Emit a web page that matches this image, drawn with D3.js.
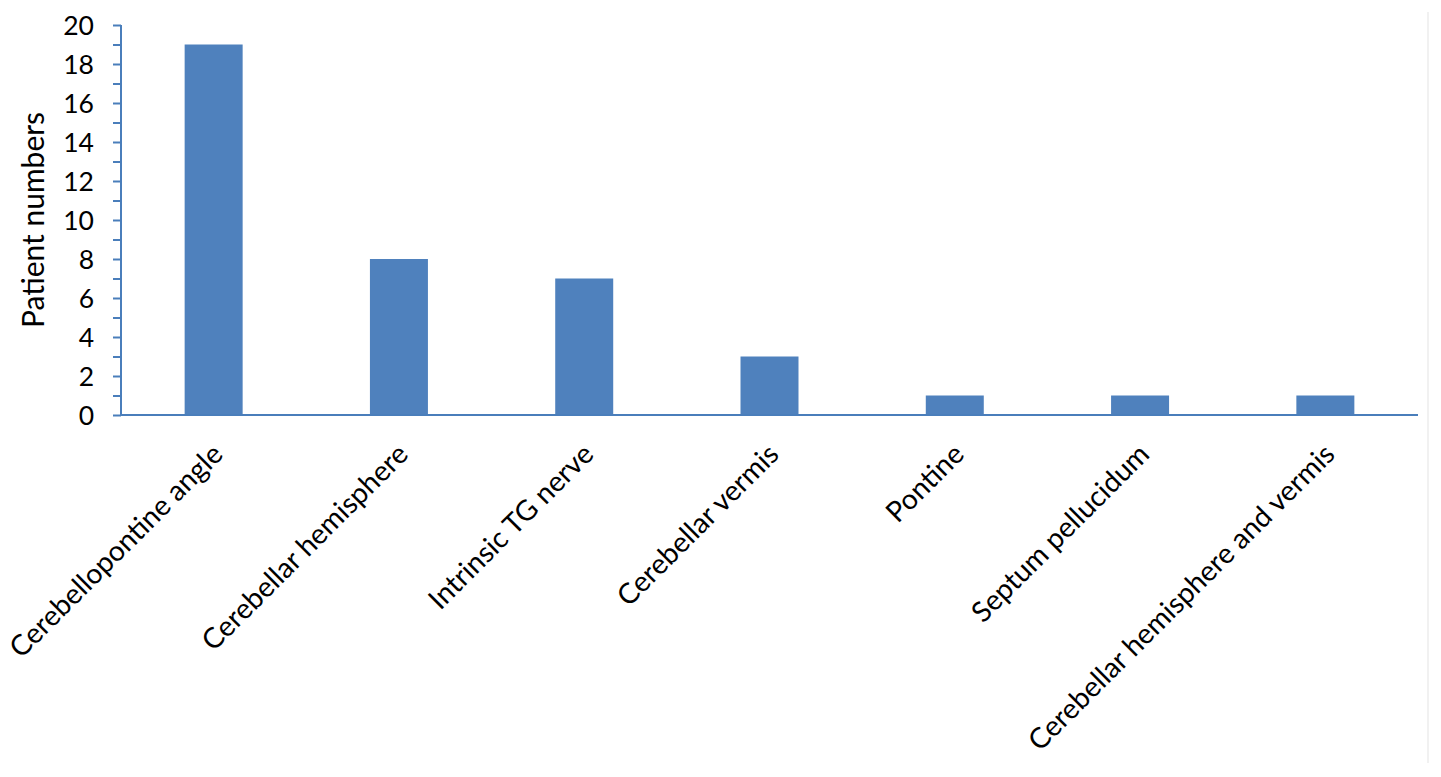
<!DOCTYPE html>
<html>
<head>
<meta charset="utf-8">
<script src="https://cdn.jsdelivr.net/npm/d3@7"></script>
<style>
  html, body { margin: 0; padding: 0; background: #fff; }
  svg { display: block; }
  text { font-family: Lato, "Open Sans", sans-serif; fill: #000; }
</style>
</head>
<body>
<svg id="chart" width="1441" height="777"></svg>
<script>
const categories = [
  "Cerebellopontine angle",
  "Cerebellar hemisphere",
  "Intrinsic TG nerve",
  "Cerebellar vermis",
  "Pontine",
  "Septum pellucidum",
  "Cerebellar hemisphere and vermis"
];
const patientNumbers = [19, 8, 7, 3, 1, 1, 1];
const yTickValues = [0, 2, 4, 6, 8, 10, 12, 14, 16, 18, 20];
const yMinorTickValues = [1, 3, 5, 7, 9, 11, 13, 15, 17, 19];
const yTitle = "Patient numbers";

(function () {
const svg = d3.select("#chart");
const mLeft = 121, mRight = 1418, mTop = 25, mBottom = 415;
const blue = "#4F81BD";
const axisColor = "#4A7EBB";

const x = d3.scaleBand().domain(categories).range([mLeft, mRight])
  .paddingInner(0.687).paddingOuter(0.3435);
const y = d3.scaleLinear().domain([0, 20]).range([mBottom, mTop]);

// faint frame line on right
svg.append("line").attr("x1", 1428).attr("x2", 1428).attr("y1", 12).attr("y2", 763)
  .attr("stroke", "#ececec").attr("stroke-width", 1.5);

// bars
svg.append("g").selectAll("rect").data(categories).join("rect")
  .attr("x", d => x(d))
  .attr("width", x.bandwidth())
  .attr("y", (d, i) => y(patientNumbers[i]))
  .attr("height", (d, i) => y(0) - y(patientNumbers[i]))
  .attr("fill", blue);

// minor ticks
const yMinor = svg.append("g").attr("transform", `translate(${mLeft},0)`)
  .call(d3.axisLeft(y).tickValues(yMinorTickValues).tickSize(8).tickFormat(""));
yMinor.select(".domain").remove();
yMinor.selectAll("line").attr("stroke", axisColor).attr("stroke-width", 2);

// y axis
const yAxis = svg.append("g").attr("transform", `translate(${mLeft},0)`)
  .call(d3.axisLeft(y).tickValues(yTickValues).tickSize(8).tickSizeOuter(0).tickPadding(19).tickFormat(d3.format("d")));
yAxis.select(".domain").attr("stroke", axisColor).attr("stroke-width", 2)
  .attr("d", `M0,${mTop}V${mBottom}`);
yAxis.selectAll("line").attr("stroke", axisColor).attr("stroke-width", 2);
yAxis.selectAll("text").style("font-size", "26.5px").attr("dy", "0.36em")
  .style("font-family", "Lato, 'Open Sans', sans-serif");

// x axis
const xAxis = svg.append("g").attr("transform", `translate(0,${mBottom})`)
  .call(d3.axisBottom(x).tickSize(0).tickSizeOuter(0).tickPadding(0));
xAxis.select(".domain").attr("stroke", axisColor).attr("stroke-width", 2)
  .attr("d", `M${mLeft},0H${mRight}`);
xAxis.selectAll(".tick text")
  .style("font-size", "28.3px")
  .style("font-family", "Lato, 'Open Sans', sans-serif")
  .attr("text-anchor", "end")
  .attr("dy", 0)
  .attr("y", 0)
  .attr("transform", "translate(11,41) rotate(-45)");

// y title
svg.append("text")
  .attr("transform", `translate(44,${(mTop + mBottom) / 2}) rotate(-90)`)
  .attr("text-anchor", "middle")
  .style("font-size", "30px")
  .text(yTitle);
})();
</script>
</body>
</html>
